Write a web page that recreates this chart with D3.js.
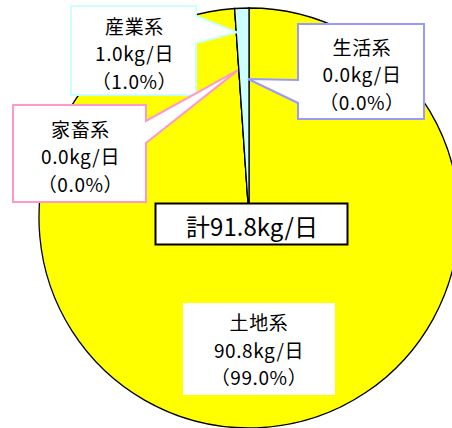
<!DOCTYPE html>
<html>
<head>
<meta charset="utf-8">
<script src="https://cdn.jsdelivr.net/npm/d3@7/dist/d3.min.js"></script>
<style>
  html, body { margin: 0; padding: 0; background: #ffffff; }
  svg { display: block; }
  text { font-family: "Noto Sans CJK JP", "Noto Sans", sans-serif; fill: #000; }
</style>
</head>
<body>
<svg id="chart" width="452" height="428"></svg>
<script>
// Pollutant load by source (kg/day), in clockwise order from 12 o'clock
const categories = ["生活系", "土地系", "家畜系", "産業系"];
const loads      = [0.0, 90.8, 0.0, 1.0];
const loadLabels = ["0.0kg/日", "90.8kg/日", "0.0kg/日", "1.0kg/日"];
const pctLabels  = ["（0.0%）", "（99.0%）", "（0.0%）", "（1.0%）"];
const totalLabel = "計91.8kg/日";

const sliceColors = {"生活系": "#ccffff", "土地系": "#ffff00", "家畜系": "#ccffff", "産業系": "#ccffff"};

const svg = d3.select("#chart");
const cx = 249, cy = 218, R = 210;

const data = categories.map((c, i) => ({cat: c, value: loads[i], i}));
const pie = d3.pie().value(d => d.value).sort(null).startAngle(0).endAngle(2 * Math.PI);
const arcs = pie(data);
const arc = d3.arc().innerRadius(0).outerRadius(R);

const g = svg.append("g").attr("transform", `translate(${cx},${cy})`);
g.selectAll("path.slice")
  .data(arcs)
  .join("path")
  .attr("class", "slice")
  .attr("d", arc)
  .attr("fill", d => sliceColors[d.data.cat])
  .attr("stroke", "#000")
  .attr("stroke-width", 1.3)
  .attr("stroke-linejoin", "round");

// point on the pie at a given angle (clockwise from top) and radius
function polar(a, r) {
  return [cx + r * Math.sin(a), cy - r * Math.cos(a)];
}
const byCat = {};
arcs.forEach(a => byCat[a.data.cat] = a);

// callout boxes: box edges, the side the pointer leaves from, the pointer base span, and where it lands
const callouts = [
  {cat: "産業系", x0: 71, y0: 6, x1: 196, y1: 95, side: "right", a: 16, b: 43,
   tip: () => polar(byCat["産業系"].startAngle + 0.004, 0.886 * R), stroke: "#ccffff"},
  {cat: "生活系", x0: 298, y0: 24, x1: 424, y1: 119, side: "left", a: 80, b: 103,
   tip: () => polar(byCat["生活系"].startAngle - 0.007, 0.662 * R), stroke: "#9999ff"},
  {cat: "家畜系", x0: 13, y0: 105, x1: 146, y1: 202, side: "right", a: 121, b: 143,
   tip: () => polar(byCat["家畜系"].startAngle - 0.006, 0.706 * R), stroke: "#ff99cc"}
];

function calloutPath(c) {
  const [tx, ty] = c.tip();
  if (c.side === "right") {
    return `M${c.x0},${c.y0}L${c.x1},${c.y0}L${c.x1},${c.a}L${tx},${ty}L${c.x1},${c.b}L${c.x1},${c.y1}L${c.x0},${c.y1}Z`;
  }
  return `M${c.x0},${c.y0}L${c.x1},${c.y0}L${c.x1},${c.y1}L${c.x0},${c.y1}L${c.x0},${c.b}L${tx},${ty}L${c.x0},${c.a}Z`;
}

const lineGap = 27.5;
function writeLines(sel, x, yMid, lines, size) {
  lines.forEach((t, k) => {
    sel.append("text")
      .attr("x", x)
      .attr("y", yMid + (k - 1) * lineGap)
      .attr("text-anchor", "middle")
      .attr("dominant-baseline", "central")
      .attr("font-size", size)
      .attr("letter-spacing", 0.6)
      .text(t);
  });
}

const cg = svg.append("g");
callouts.forEach(c => {
  cg.append("path")
    .attr("d", calloutPath(c))
    .attr("fill", "#fff")
    .attr("stroke", c.stroke)
    .attr("stroke-width", 2);
  const i = categories.indexOf(c.cat);
  writeLines(cg, (c.x0 + c.x1) / 2 + 1, (c.y0 + c.y1) / 2 + 2,
             [categories[i], loadLabels[i], pctLabels[i]], 19);
});

// label inside the large slice
{
  const i = categories.indexOf("土地系");
  cg.append("rect").attr("x", 183).attr("y", 303).attr("width", 152).attr("height", 92).attr("fill", "#fff");
  writeLines(cg, 259, 349, [categories[i], loadLabels[i], pctLabels[i]], 19);
}

// total box over the centre
cg.append("rect").attr("x", 155.5).attr("y", 203.5).attr("width", 192).attr("height", 41)
  .attr("fill", "#fff").attr("stroke", "#000").attr("stroke-width", 2);
cg.append("text")
  .attr("x", 252).attr("y", 225)
  .attr("text-anchor", "middle").attr("dominant-baseline", "central")
  .attr("font-size", 24)
  .text(totalLabel);
</script>
</body>
</html>
